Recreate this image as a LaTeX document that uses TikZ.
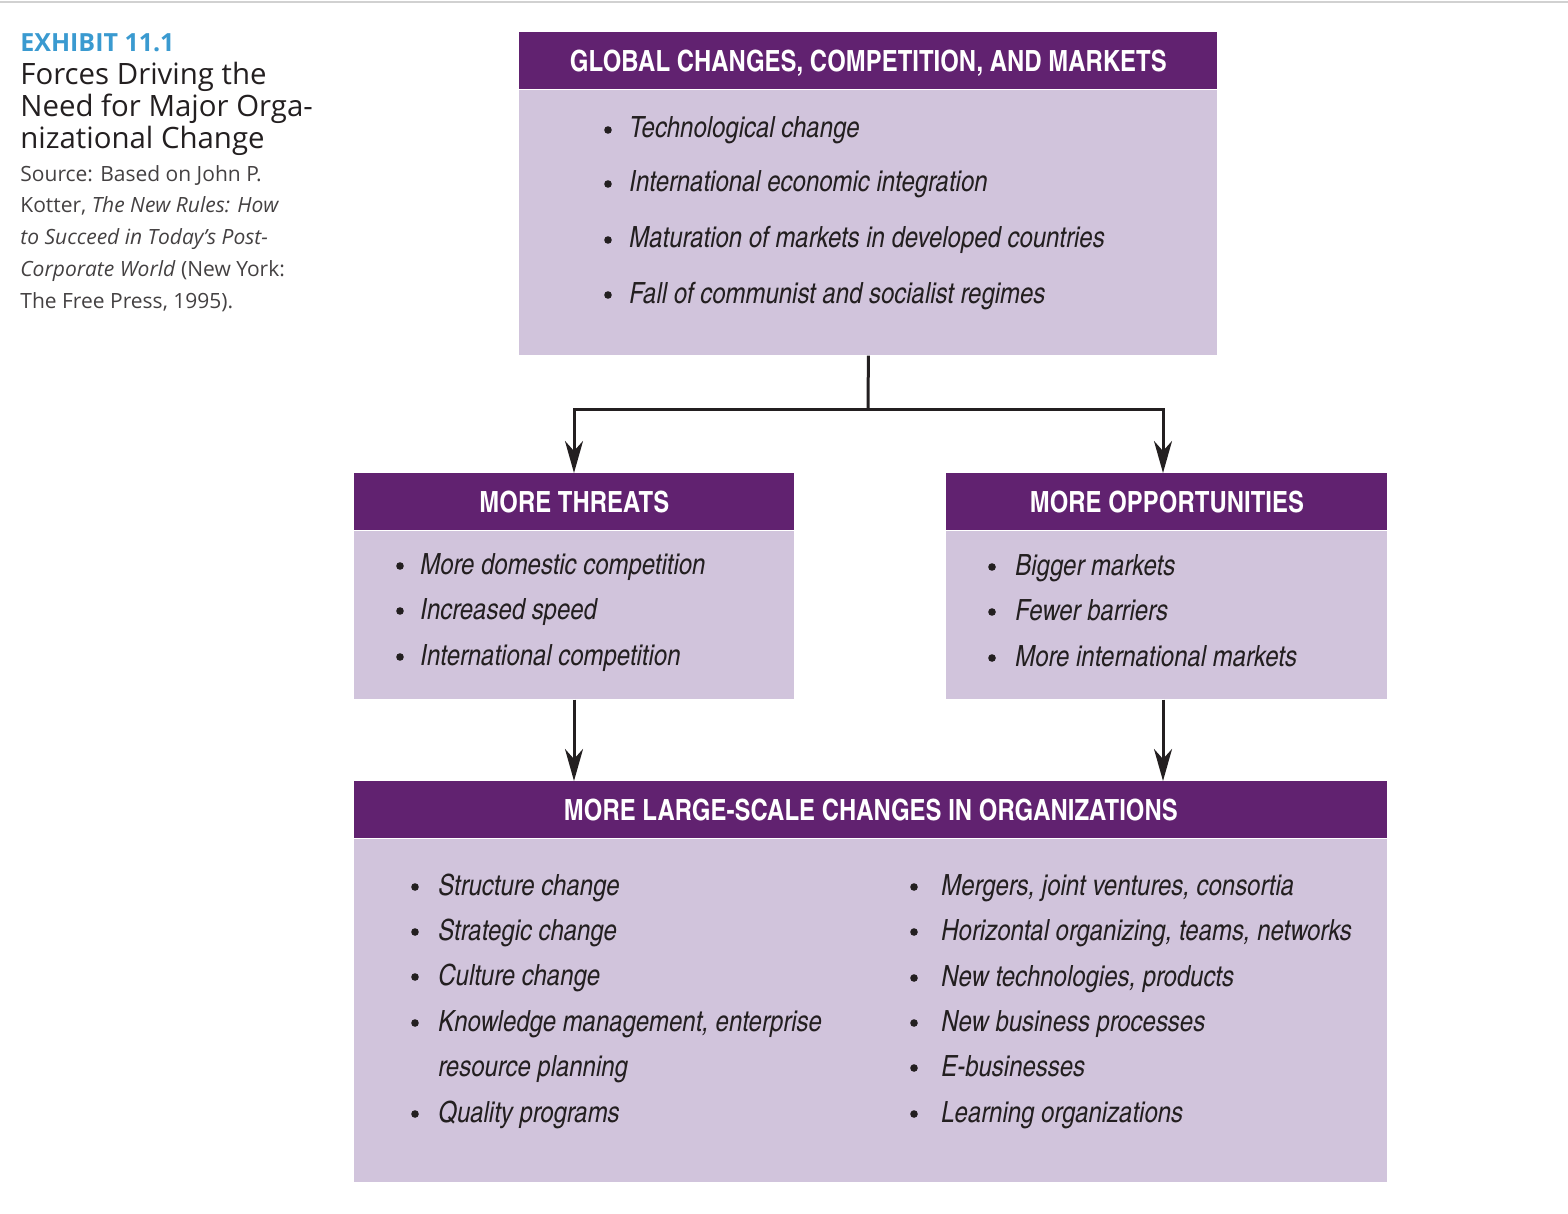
\documentclass[tikz,border=0pt]{standalone}
\usepackage{fontspec}
\setmainfont{Open Sans}
\newfontfamily\cnfont{texgyreheroscn}[Extension=.otf,
  UprightFont=*-regular, BoldFont=*-bold,
  ItalicFont=*-italic, BoldItalicFont=*-bolditalic]
\usetikzlibrary{arrows.meta,positioning}
\definecolor{hdpurple}{RGB}{97,34,112}
\definecolor{bdlilac}{RGB}{209,196,220}
\definecolor{exblue}{RGB}{58,154,208}
\definecolor{ink}{RGB}{35,31,32}

\begin{document}
\begin{tikzpicture}[
  x=0.5pt, y=-0.5pt,
  hd/.style={anchor=north west, fill=hdpurple, text=white, inner sep=0pt, text depth=0pt,
    minimum height=28.5pt, font=\cnfont\bfseries\fontsize{14.6}{16}\selectfont},
  bd/.style={fill=bdlilac, inner sep=0pt, below=0pt of #1},
  item/.style={anchor=base west, inner sep=0pt, text=ink,
    font=\cnfont\itshape\fontsize{14.6}{17}\selectfont},
  dot/.style={circle, fill=ink, inner sep=0pt, minimum size=3.8pt},
  side/.style={anchor=base west, inner sep=0pt, text=ink},
  link/.style={line width=1.5pt, draw=ink},
  arr/.style={link, -{Stealth[length=16pt, width=9pt, inset=5pt]}}]

\useasboundingbox (0,0) rectangle (1568,1214);
\draw[line width=1pt, black!18] (0,2) -- (1568,2);

% ---- caption on the left ------------------------------------------------
\node[side, text=exblue, font=\bfseries\fontsize{12.5}{15}\selectfont] (exh) at (20,52) {EXHIBIT 11.1};
\foreach \y/\t [count=\i] in {85/Forces Driving the, 117/Need for Major Orga-, 149/nizational Change}
  \node[side, font=\fontsize{14.7}{16}\selectfont] (ttl\i) at (20,\y) {\t};
\foreach \y/\t [count=\i] in {182/{Source: Based on John P.},
    213/{Kotter, \textit{The New Rules: How}},
    245/{\textit{to Succeed in Today’s Post-}},
    277/{\textit{Corporate World} (New York:},
    308/{The Free Press, 1995).}}
  \node[side, text=ink!85, font=\fontsize{10.5}{16}\selectfont] (src\i) at (20,\y) {\t};

% ---- global changes -----------------------------------------------------
\node[hd, minimum width=349pt] (globH) at (519,32) {GLOBAL CHANGES, COMPETITION, AND MARKETS};
\node[bd=globH, minimum width=349pt, minimum height=132.5pt] (glob) {};
\foreach \y/\t [count=\i] in {130/Technological change, 184/International economic integration,
    240/Maturation of markets in developed countries, 295/Fall of communist and socialist regimes}{
  \node[dot] (gd\i) at (608,\y) {};
  \node[item] (g\i) at (629,\y+8) {\t};
}

% ---- threats and opportunities ------------------------------------------
\node[hd, minimum width=220pt] (thrH) at (354,473) {MORE THREATS};
\node[bd=thrH, minimum width=220pt, minimum height=84pt] (thr) {};
\foreach \y/\t [count=\i] in {566/More domestic competition, 611/Increased speed, 657/International competition}{
  \node[dot] (td\i) at (400,\y) {};
  \node[item] (t\i) at (420,\y+8) {\t};
}
\node[hd, minimum width=220.5pt] (oppH) at (946,473) {MORE OPPORTUNITIES};
\node[bd=oppH, minimum width=220.5pt, minimum height=84pt] (opp) {};
\foreach \y/\t [count=\i] in {567/Bigger markets, 612/Fewer barriers, 658/More international markets}{
  \node[dot] (od\i) at (992,\y) {};
  \node[item] (o\i) at (1015,\y+8) {\t};
}

% ---- large-scale changes ------------------------------------------------
\node[hd, minimum width=516.5pt] (bigH) at (354,781) {MORE LARGE-SCALE CHANGES IN ORGANIZATIONS};
\node[bd=bigH, minimum width=516.5pt, minimum height=171.5pt] (big) {};
\foreach \y/\t [count=\i] in {887/Structure change, 932/Strategic change, 977/Culture change,
    1023/{Knowledge management, enterprise}, 1114/Quality programs}{
  \node[dot] (ld\i) at (415,\y) {};
  \node[item] (l\i) at (438,\y+8) {\t};
}
\node[item] (l6) at (438,1076) {resource planning};
\foreach \y/\t [count=\i] in {887/{Mergers, joint ventures, consortia},
    932/{Horizontal organizing, teams, networks}, 978/{New technologies, products},
    1023/New business processes, 1068/E-businesses, 1114/Learning organizations}{
  \node[dot] (rd\i) at (914,\y) {};
  \node[item] (r\i) at (941,\y+8) {\t};
}

% ---- connectors ---------------------------------------------------------
\coordinate (split) at (868,409);
\draw[link] (glob.south) -- (split);
\draw[arr] (split) -| (574,473);
\draw[arr] (split) -| (1163,473);
\draw[arr] (thr.south -| 574,0) -- (bigH.north -| 574,0);
\draw[arr] (opp.south -| 1163,0) -- (bigH.north -| 1163,0);

\end{tikzpicture}
\end{document}
